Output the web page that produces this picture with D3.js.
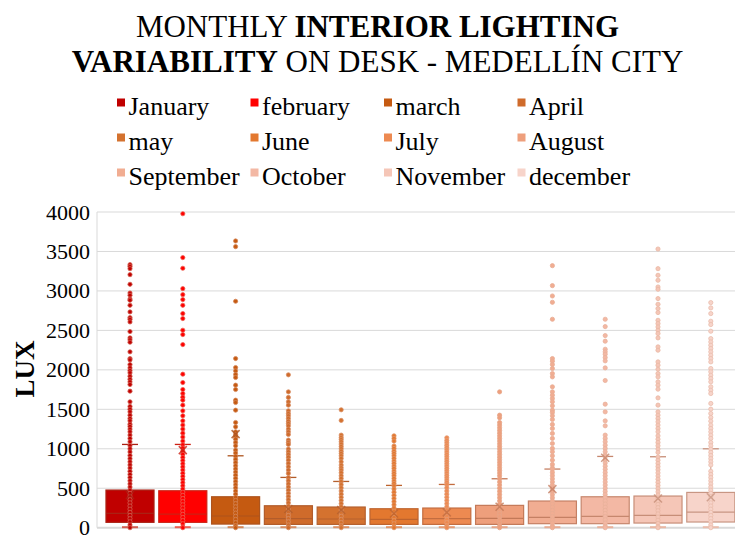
<!DOCTYPE html>
<html>
<head>
<meta charset="utf-8">
<script src="https://cdn.jsdelivr.net/npm/d3@7"></script>
<style>
  body { margin: 0; background: #fff; }
  text { font-family: "Liberation Serif", "Times New Roman", serif; fill: #000; }
</style>
</head>
<body>
<script>
const months = ['January', 'february', 'march', 'April', 'may', 'June', 'July', 'August', 'September', 'October', 'November', 'december'];
const colors = ['#C00000', '#FF0000', '#C55A11', '#CF6B2B', '#D4722F', '#E3782F', '#ED8A51', '#EE9F7C', '#F1AD92', '#F3B8A4', '#F5C6B7', '#F7D4CA'];

// box statistics (lux)
const q1 = [68, 68, 46, 42, 42, 42, 42, 42, 51, 51, 59, 72];
const median = [181, 173, 148, 114, 110, 105, 114, 118, 131, 143, 156, 198];
const q3 = [477, 468, 392, 278, 262, 240, 249, 283, 338, 392, 401, 447];
const mean = [415, 983, 1186, 236, 224, 181, 194, 266, 489, 886, 371, 385];
const whiskerHi = [1055, 1055, 911, 637, 586, 536, 548, 620, 743, 903, 899, 1000];
const whiskerLo = [0, 0, 0, 0, 0, 0, 0, 0, 0, 0, 0, 0];

// individual points (outliers + inner points)
const dots = [
  [3333, 3312, 3282, 3206, 3084, 2974, 2945, 2898, 2882, 2818, 2734, 2662, 2641, 2607, 2485, 2405, 2380, 2350, 2228, 2143, 2126, 2067, 2025, 1991, 1962, 1920, 1882, 1848, 1814, 1730, 1595, 1536, 1502, 1468, 1426, 1384, 1354, 1312, 1283, 1249, 1215, 1173, 1131, 1089,
   1040, 1000, 960, 915, 875, 835, 795, 755, 715, 675, 635, 595, 555, 515, 475, 435, 395, 355, 315, 275, 235, 195, 155, 115, 75, 35, 0],
  [3978, 3422, 3287, 3029, 2953, 2890, 2818, 2713, 2650, 2502, 2447, 2320, 1945, 1839, 1751, 1700, 1654, 1616, 1553, 1481, 1418, 1354, 1300, 1249, 1198, 1148, 1097,
   1050, 1010, 970, 930, 890, 850, 810, 770, 730, 690, 650, 610, 570, 530, 490, 450, 410, 370, 330, 290, 250, 210, 170, 130, 90, 50, 10, 0],
  [3633, 3561, 2869, 2143, 2029, 1987, 1941, 1903, 1806, 1751, 1616, 1586, 1489, 1333, 1278, 1215, 1181, 1152, 1122, 1080, 1038, 983, 945,
   905, 865, 825, 785, 745, 705, 665, 625, 585, 545, 505, 465, 425, 385, 345, 305, 265, 225, 185, 145, 105, 65, 25, 0],
  [1937, 1721, 1650, 1595, 1553, 1481, 1447, 1418, 1384, 1350, 1321, 1291, 1249, 1215, 1181, 1110, 1080, 1055, 996, 962, 928, 894, 856, 814, 772, 730, 688,
   635, 595, 555, 515, 475, 435, 395, 355, 315, 275, 235, 195, 155, 115, 75, 35, 0],
  [1494, 1359, 1173, 1143, 1118, 1089, 1059, 1029, 1000, 970, 941, 911, 878, 835, 793, 759, 730, 696, 658, 624,
   585, 545, 505, 465, 425, 385, 345, 305, 265, 225, 185, 145, 105, 65, 25, 0],
  [1164, 1131, 1097, 1034, 1004, 970, 941, 911, 878, 844, 814, 781, 751, 717, 688, 658, 624, 591, 561,
   530, 490, 450, 410, 370, 330, 290, 250, 210, 170, 130, 90, 50, 10, 0],
  [1139, 1105, 1076, 1046, 1017, 987, 958, 928, 899, 869, 840, 810, 781, 751, 721, 692, 662, 633, 603, 574,
   545, 505, 465, 425, 385, 345, 305, 265, 225, 185, 145, 105, 65, 25, 0],
  [1721, 1426, 1392, 1333, 1300, 1266, 1232, 1198, 1164, 1131, 1097, 1063, 1029, 996, 962, 928, 894, 861, 827, 793, 759, 726, 692, 658,
   620, 580, 540, 500, 460, 420, 380, 340, 300, 260, 220, 180, 140, 100, 60, 20, 0],
  [3320, 3067, 2936, 2856, 2641, 2143, 2110, 2067, 2017, 1953, 1911, 1785, 1721, 1679, 1637, 1595, 1544, 1489, 1460, 1418, 1371, 1308, 1257, 1194, 1131, 1067, 1004, 962, 911, 856, 802, 759,
   740, 700, 660, 620, 580, 540, 500, 460, 420, 380, 340, 300, 260, 220, 180, 140, 100, 60, 20, 0],
  [2641, 2548, 2434, 2363, 2261, 2228, 2198, 2156, 2114, 2025, 1865, 1565, 1468, 1354, 1291, 1173, 1131, 1089, 1046, 1004, 962, 920,
   900, 860, 820, 780, 740, 700, 660, 620, 580, 540, 500, 460, 420, 380, 340, 300, 260, 220, 180, 140, 100, 60, 20, 0],
  [3531, 3282, 3198, 3135, 3050, 3021, 2903, 2831, 2776, 2726, 2628, 2586, 2544, 2502, 2460, 2405, 2291, 2249, 2101, 2059, 2008, 1953, 1911, 1848, 1806, 1755, 1645, 1553, 1468, 1426, 1384, 1342, 1300, 1257, 1215, 1164, 1122, 1080, 1038, 996, 954,
   895, 855, 815, 775, 735, 695, 655, 615, 575, 535, 495, 455, 415, 375, 335, 295, 255, 215, 175, 135, 95, 55, 15, 0],
  [2852, 2785, 2713, 2616, 2574, 2489, 2396, 2354, 2312, 2270, 2228, 2186, 2143, 2101, 2017, 1975, 1932, 1890, 1848, 1785, 1742, 1700, 1574, 1502, 1447, 1397, 1350, 1300, 1257, 1215, 1173, 1131, 1080, 1038,
   995, 955, 915, 875, 835, 795, 715, 675, 635, 595, 555, 515, 475, 435, 395, 355, 315, 275, 235, 195, 155, 115, 75, 35, 0]
];

const yTicks = [0, 500, 1000, 1500, 2000, 2500, 3000, 3500, 4000];

const serif = '"Liberation Serif", "Times New Roman", serif';
const width = 735, height = 538;
const plot = { left: 97, right: 737, top: 212, bottom: 527.7 };

const svg = d3.create('svg')
    .attr('width', width)
    .attr('height', height)
    .attr('font-family', serif);

const x = d3.scaleBand()
    .domain(months)
    .range([103.6, 737.2])
    .paddingInner(0.09)
    .paddingOuter(0.045);

const y = d3.scaleLinear()
    .domain([0, 4000])
    .range([plot.bottom, plot.top]);

const edge = c => d3.interpolateRgb(c, '#8f4a2c')(0.45);
const halo = c => d3.interpolateRgb(c, '#e0ab93')(0.55);

// title
const title = svg.append('text')
    .attr('text-anchor', 'middle')
    .attr('font-size', 31);
const l1 = title.append('tspan').attr('x', 377.5).attr('y', 37);
l1.append('tspan').text('MONTHLY ');
l1.append('tspan').attr('font-weight', 'bold').text('INTERIOR LIGHTING');
const l2 = title.append('tspan').attr('x', 377.5).attr('y', 72);
l2.append('tspan').attr('font-weight', 'bold').text('VARIABILITY');
l2.append('tspan').text(' ON DESK - MEDELLÍN CITY');

// legend
const legendCols = [117, 250.5, 384, 517.5];
const legendRows = [115, 150, 185];
const item = svg.append('g').selectAll('g')
    .data(months)
    .join('g')
    .attr('transform', (d, i) => `translate(${legendCols[i % 4]},${legendRows[Math.floor(i / 4)]})`);
item.append('rect')
    .attr('x', 0).attr('y', -16.5)
    .attr('width', 8).attr('height', 8)
    .attr('fill', (d, i) => colors[i]);
item.append('text')
    .attr('x', 11.5)
    .attr('font-size', 26)
    .text(d => d);

// grid
svg.append('g').selectAll('line')
    .data(yTicks)
    .join('line')
    .attr('x1', plot.left).attr('x2', width)
    .attr('y1', d => y(d)).attr('y2', d => y(d))
    .attr('stroke', '#d9d9d9')
    .attr('stroke-width', d => d === 0 ? 2 : 1);

svg.append('line')
    .attr('x1', plot.left).attr('x2', plot.left)
    .attr('y1', plot.top).attr('y2', plot.bottom)
    .attr('stroke', '#d9d9d9');

const y_axis = d3.axisLeft(y)
    .tickValues(yTicks)
    .tickFormat(d3.format('d'))
    .tickSize(0)
    .tickPadding(7);

svg.append('g')
    .attr('transform', `translate(${plot.left},0)`)
    .call(y_axis)
    .attr('font-family', serif)
    .attr('font-size', 22)
    .call(g => g.select('.domain').remove())
    .call(g => g.selectAll('text').attr('fill', '#000'));

svg.append('text')
    .attr('transform', 'translate(34,369) rotate(-90)')
    .attr('text-anchor', 'middle')
    .attr('font-size', 27)
    .attr('font-weight', 'bold')
    .text('LUX');

// boxes
const bw = x.bandwidth();
const box = svg.append('g').selectAll('g')
    .data(months)
    .join('g')
    .attr('transform', d => `translate(${x(d)},0)`);

box.append('rect')
    .attr('x', 0)
    .attr('y', (d, i) => y(q3[i]))
    .attr('width', bw)
    .attr('height', (d, i) => y(q1[i]) - y(q3[i]))
    .attr('fill', (d, i) => colors[i])
    .attr('stroke', (d, i) => edge(colors[i]))
    .attr('stroke-width', 1.2);

box.append('line')
    .attr('x1', 0).attr('x2', bw)
    .attr('y1', (d, i) => y(median[i])).attr('y2', (d, i) => y(median[i]))
    .attr('stroke', (d, i) => edge(colors[i]))
    .attr('stroke-width', 1.2);

box.append('line')
    .attr('x1', bw / 2).attr('x2', bw / 2)
    .attr('y1', (d, i) => y(whiskerHi[i])).attr('y2', (d, i) => y(q3[i]))
    .attr('stroke', (d, i) => edge(colors[i]));

box.append('line')
    .attr('x1', bw / 2 - 8).attr('x2', bw / 2 + 8)
    .attr('y1', (d, i) => y(whiskerHi[i])).attr('y2', (d, i) => y(whiskerHi[i]))
    .attr('stroke', (d, i) => edge(colors[i]))
    .attr('stroke-width', 1.3);

box.append('line')
    .attr('x1', bw / 2 - 8).attr('x2', bw / 2 + 8)
    .attr('y1', (d, i) => y(whiskerLo[i]) - 0.5).attr('y2', (d, i) => y(whiskerLo[i]) - 0.5)
    .attr('stroke', (d, i) => halo(colors[i]))
    .attr('stroke-width', 2);

box.each(function(d, i) {
    d3.select(this).selectAll('circle')
        .data(dots[i])
        .join('circle')
        .attr('cx', bw / 2)
        .attr('cy', v => y(v))
        .attr('r', 2.1)
        .attr('fill', colors[i])
        .attr('stroke', halo(colors[i]))
        .attr('stroke-width', 0.8);
});

// mean markers
const xs = 4;
box.append('path')
    .attr('d', (d, i) => {
        const cx = bw / 2, cy = y(mean[i]);
        return `M${cx - xs},${cy - xs}L${cx + xs},${cy + xs}M${cx - xs},${cy + xs}L${cx + xs},${cy - xs}`;
    })
    .attr('stroke', (d, i) => edge(colors[i]))
    .attr('stroke-opacity', 0.8)
    .attr('stroke-width', 1.5)
    .attr('fill', 'none');

document.querySelector('body').appendChild(svg.node());
</script>
</body>
</html>
